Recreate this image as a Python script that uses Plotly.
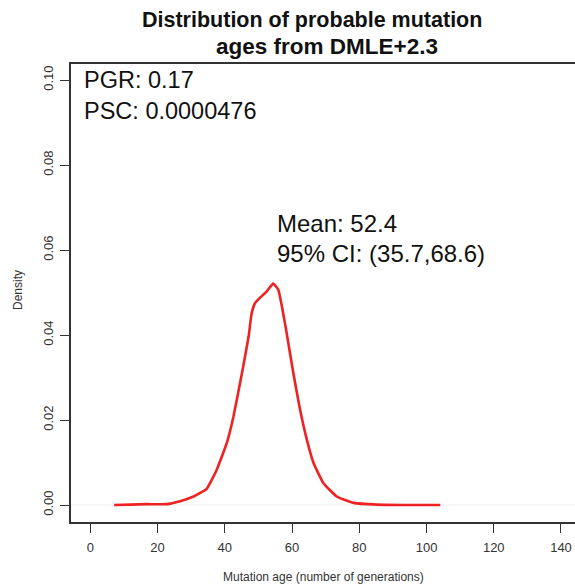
import plotly.graph_objects as go

age = [7.1, 12.0, 16.8, 22.7, 26.7, 30.7, 34.6, 37.6, 40.6, 42.6, 45.1, 47.1, 48.0, 49.0,
       50.5, 52.5, 54.4, 55.9, 57.0, 58.4, 60.4, 62.4, 64.4, 66.4, 69.3, 73.3, 78.3, 85.3, 95.0, 104.1]
density = [0.0, 0.0001, 0.0002, 0.0002, 0.0009, 0.0020, 0.0038, 0.0083, 0.0146, 0.0209, 0.0310, 0.0397,
           0.0452, 0.0475, 0.0488, 0.0503, 0.0521, 0.0507, 0.0467, 0.0405, 0.0310, 0.0224, 0.0154,
           0.0099, 0.0052, 0.0020, 0.0005, 0.0001, 0.0, 0.0]

x_ticks = [0, 20, 40, 60, 80, 100, 120, 140]
y_ticks = [0.00, 0.02, 0.04, 0.06, 0.08, 0.10]
y_tick_labels = ["0.00", "0.02", "0.04", "0.06", "0.08", "0.10"]

title_lines = ["Distribution of probable mutation", "ages from DMLE+2.3"]
x_title = "Mutation age (number of generations)"
y_title = "Density"
stats_left = ["PGR: 0.17", "PSC: 0.0000476"]
stats_mid = ["Mean: 52.4", "95% CI: (35.7,68.6)"]

FONT = "Liberation Sans, Arial, Helvetica, sans-serif"
FW, FH = 578, 586
L, T, W, H = 71, 64, 507, 458  # plot area in window coordinates (right edge beyond window)

fig = go.Figure()
fig.add_trace(go.Scatter(x=[-10, 160], y=[0, 0], mode="lines",
                         line=dict(color="#eeeeee", width=1), hoverinfo="skip", showlegend=False))
fig.add_trace(go.Scatter(x=age, y=density, mode="lines",
                         line=dict(color="#ee2222", width=2.6, shape="spline", smoothing=0.4),
                         showlegend=False))

fig.update_layout(
    width=FW, height=FH,
    margin=dict(l=L, r=FW - L - W, t=T, b=FH - T - H, autoexpand=False),
    paper_bgcolor="white", plot_bgcolor="white",
    font=dict(family=FONT, color="#222"),
    showlegend=False,
)
fig.update_xaxes(range=[-5.74, 145.06], tickvals=x_ticks, ticks="outside", ticklen=9,
                 tickcolor="#333", tickfont=dict(size=13, color="#333"), ticklabelstandoff=4,
                 showline=True, linecolor="#333", linewidth=1.5, mirror=True,
                 showgrid=False, zeroline=False, automargin=False)
fig.update_yaxes(range=[-0.004, 0.1038], tickvals=y_ticks, ticktext=y_tick_labels,
                 ticks="outside", ticklen=9, tickcolor="#333", tickangle=-90,
                 tickfont=dict(size=13, color="#333"), ticklabelstandoff=2,
                 showline=True, linecolor="#333", linewidth=1.5,
                 showgrid=False, zeroline=False, automargin=False)

def px(x):
    return (x - L) / W

def py(y):
    return 1 - (y - T) / H

fig.add_annotation(text=x_title, xref="paper", yref="paper", x=px(323), y=py(577),
                   xanchor="center", yanchor="middle", showarrow=False,
                   font=dict(size=12, color="#333"))
fig.add_annotation(text=y_title, xref="paper", yref="paper", x=px(18), y=py(290),
                   xanchor="center", yanchor="middle", showarrow=False, textangle=-90,
                   font=dict(size=12, color="#333"))

fig.add_annotation(text="<b>%s</b>" % title_lines[0], xref="paper", yref="paper",
                   x=px(312), y=py(20), xanchor="center", yanchor="middle",
                   showarrow=False, font=dict(size=21.5, color="#111"))
fig.add_annotation(text="<b>%s</b>" % title_lines[1], xref="paper", yref="paper",
                   x=px(327), y=py(47), xanchor="center", yanchor="middle",
                   showarrow=False, font=dict(size=22.5, color="#111"))

for i, t in enumerate(stats_left):
    fig.add_annotation(text=t, xref="paper", yref="paper",
                       x=px(82), y=py(80 + 31 * i),
                       xanchor="left", yanchor="middle", showarrow=False,
                       font=dict(size=23.5, color="#111"))
for i, t in enumerate(stats_mid):
    fig.add_annotation(text=t, xref="paper", yref="paper",
                       x=px(275), y=py(224 + 29 * i),
                       xanchor="left", yanchor="middle", showarrow=False,
                       font=dict(size=24, color="#111"))

fig.write_html("out.html", config={"displayModeBar": False},
               post_script="document.body.style.margin='0';document.body.style.overflow='hidden';")
